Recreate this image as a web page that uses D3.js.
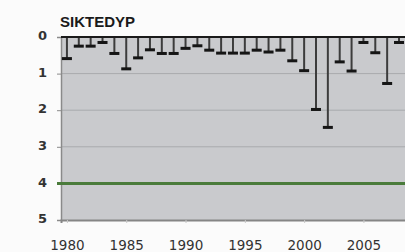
<!DOCTYPE html>
<html><head><meta charset="utf-8">
<script src="https://cdn.jsdelivr.net/npm/d3@7"></script>
<style>html,body{margin:0;padding:0;background:#fbfbfb;overflow:hidden}</style>
</head><body>
<svg id="c" width="405" height="252"></svg>
<script>
const title = "SIKTEDYP";
const years = [1980,1981,1982,1983,1984,1985,1986,1987,1988,1989,1990,1991,1992,1993,1994,1995,1996,1997,1998,1999,2000,2001,2002,2003,2004,2005,2006,2007,2008];
const depths = [0.59,0.25,0.25,0.15,0.45,0.87,0.57,0.35,0.45,0.45,0.31,0.24,0.36,0.44,0.44,0.44,0.36,0.41,0.36,0.65,0.92,1.98,2.47,0.68,0.93,0.15,0.43,1.27,0.15];
const yTicks = [0,1,2,3,4,5];
const xTicks = [1980,1985,1990,1995,2000,2005];
const limit = 4;

const svg = d3.select("#c");
const m = {left:61, top:37, bottom:220};
const x = d3.scaleLinear().domain([1979.5, 2009.5]).range([m.left, m.left + 30*11.86]);
const y = d3.scaleLinear().domain([0,5]).range([m.top, m.bottom]);

svg.append("rect").attr("x", m.left).attr("y", m.top).attr("width", x(2009.5)-m.left).attr("height", m.bottom-m.top).attr("fill", "#c9cacd");

// gridlines
svg.append("g").selectAll("line").data([1,2,3]).join("line")
  .attr("x1", m.left).attr("x2", x(2009.5)).attr("y1", d=>y(d)).attr("y2", d=>y(d))
  .attr("stroke", "#a9aaad").attr("stroke-width", 1);

// left axis
const ya = svg.append("g").attr("transform", `translate(${m.left},0)`)
  .call(d3.axisLeft(y).tickValues(yTicks).tickFormat(d3.format("d")).tickSize(4).tickPadding(10));
ya.select(".domain").attr("stroke", "#8a8a8a").attr("stroke-width", 1.5);
ya.selectAll(".tick line").attr("stroke", "#8a8a8a");
ya.selectAll("text").attr("font-family", "DejaVu Sans").attr("font-size", 13).attr("font-weight", "bold").attr("fill", "#333").attr("dy", "0.2em");

// bottom axis
const xa = svg.append("g").attr("transform", `translate(0,${m.bottom})`)
  .call(d3.axisBottom(x).tickValues(xTicks).tickFormat(d3.format("d")).tickSize(3).tickPadding(17));
xa.select(".domain").attr("stroke", "#858585").attr("stroke-width", 2);
xa.selectAll(".tick line").attr("stroke", "#c8c8c8");
xa.selectAll("text").attr("font-family", "DejaVu Sans").attr("font-size", 13.5).attr("fill", "#333");

// limit line
svg.append("line").attr("x1", m.left-4).attr("x2", x(2009.5)).attr("y1", y(limit)).attr("y2", y(limit))
  .attr("stroke", "#4a7b3b").attr("stroke-width", 3);

// stems
svg.append("g").selectAll("line").data(years).join("line")
  .attr("x1", d=>x(d)).attr("x2", d=>x(d)).attr("y1", y(0)).attr("y2", (d,i)=>y(depths[i]))
  .attr("stroke", "#3c3c3c").attr("stroke-width", 2);
// caps
svg.append("g").selectAll("rect").data(years).join("rect")
  .attr("x", d=>x(d)-5).attr("y", (d,i)=>y(depths[i])-1.5).attr("width", 10).attr("height", 3)
  .attr("fill", "#151515");

// top line
svg.append("line").attr("x1", m.left).attr("x2", x(2009.5)).attr("y1", y(0)).attr("y2", y(0))
  .attr("stroke", "#1a1a1a").attr("stroke-width", 2);

svg.append("text").attr("x", 60).attr("y", 27).text(title)
  .attr("font-family", "Liberation Sans, Arial").attr("font-weight", "bold").attr("font-size", 15).attr("fill", "#1a1a1a");
</script>
</body></html>
